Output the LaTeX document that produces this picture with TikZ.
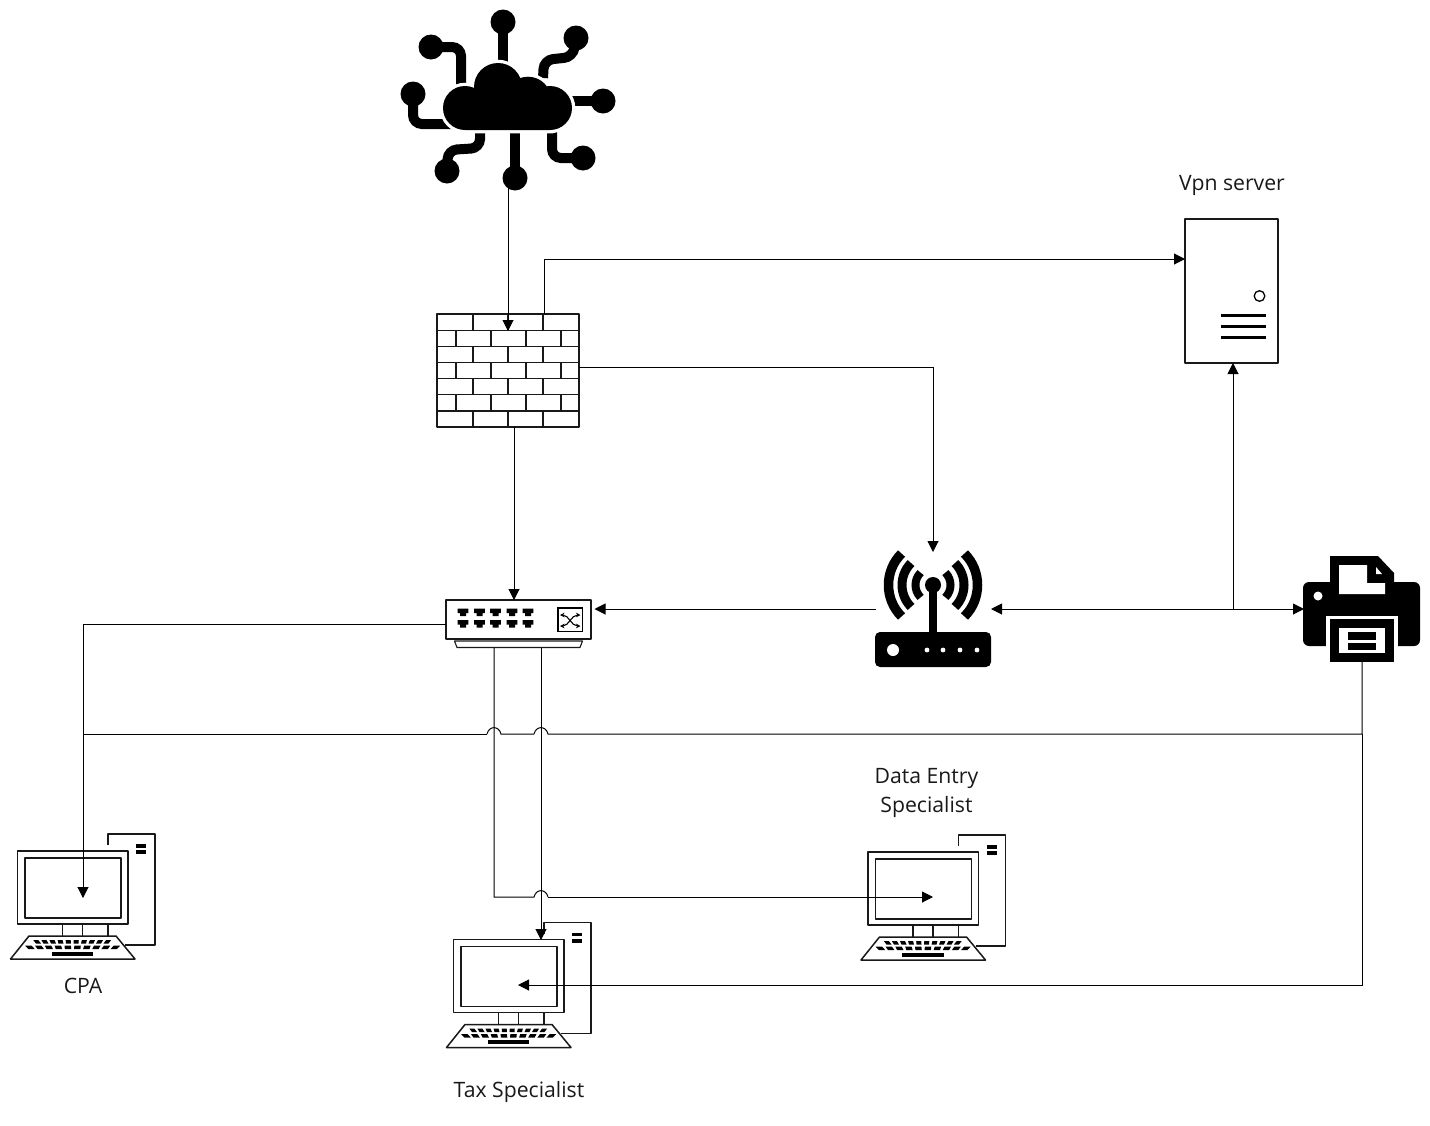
\documentclass[tikz,border=0pt]{standalone}
\usepackage{fontspec}
\setmainfont{Open Sans}
\usetikzlibrary{arrows.meta}
\tikzset{
  wire/.style={draw=black,line width=1pt,line join=miter},
  arrowwire/.style={wire,-{Triangle[length=11pt,width=11pt]}},
  dblwire/.style={wire,{Triangle[length=11pt,width=11pt]}-{Triangle[length=11pt,width=11pt]}},
  outline/.style={draw=black!90,line width=1.5pt,fill=white,line join=round},
  label/.style={font=\fontsize{21.2}{29}\selectfont,align=center,text=black!90,inner sep=0pt},
  stem/.style={draw=black,line width=10pt,rounded corners=9pt},
  pics/desktop/.style={code={
    \draw[outline] (108,845) -- (108,834) -- (155,834) -- (155,945) -- (125,945);
    \fill (136,844) rectangle (146,847.5);
    \fill (136,850) rectangle (146,854);
    \draw[outline] (17.5,851) rectangle (128,924);
    \draw[outline] (25,858) rectangle (121,918);
    \draw[outline] (62.5,924) -- (62.5,936);
    \draw[outline] (82.5,924) -- (82.5,936);
    \draw[outline] (108,924) -- (108,936);
    \draw[outline] (29,936) -- (116,936) -- (135,959) -- (10.5,959) -- cycle;
    \foreach \i in {0,...,9}{
      \pgfmathsetmacro{\xa}{36+\i*7.5}
      \pgfmathsetmacro{\sa}{(\xa+2.5-72.5)*0.08}
      \fill (\xa+\sa,940) -- (\xa+5+\sa,940) -- (\xa+5,943.5) -- (\xa,943.5) -- cycle;
      \pgfmathsetmacro{\xb}{28.5+\i*9.1}
      \pgfmathsetmacro{\sb}{(\xb+3-72.5)*0.08}
      \fill (\xb+\sb,945.7) -- (\xb+6.4+\sb,945.7) -- (\xb+6.4,949.2) -- (\xb,949.2) -- cycle;
    }
    \fill (51.5,951.7) rectangle (93,955.5);
  }}
}
\newcommand{\hop}[2]{(#1+7,#2) .. controls (#1+5,#2-8.5) and (#1-5,#2-8.5) .. (#1-7,#2)}
\begin{document}
\begin{tikzpicture}[x=1pt,y=-1pt]
\useasboundingbox (0,0) rectangle (1430,1125);

% ---- cloud
\draw[stem] (503,22) -- (503,66);
\draw[stem] (576,38) -- (573,57) -- (544,60) -- (543,78);
\draw[stem] (603,101) -- (566,101);
\draw[stem] (583,158) -- (552,158) -- (552,130);
\draw[stem] (515,178) -- (515,130);
\draw[stem] (447,171) -- (448,150) -- (480,148) -- (480,130);
\draw[stem] (413,94) -- (413,124) -- (452,124);
\draw[stem] (431,47) -- (461,47) -- (461,90);
\fill (503,22) circle[radius=12.5pt] (576,38) circle[radius=12.5pt]
      (603,101) circle[radius=12.5pt] (583,158) circle[radius=12.5pt]
      (515,178) circle[radius=12.5pt] (447,171) circle[radius=12.5pt]
      (413,94) circle[radius=12.5pt] (431,47) circle[radius=12.5pt];
\draw[white,line width=6.5pt,fill=white]
      (465,108) circle[radius=22pt] (498,87) circle[radius=24pt]
      (528,100) circle[radius=23.3pt] (550,108) circle[radius=22pt]
      (465,108) rectangle (550,130);
\fill (465,108) circle[radius=22pt] (498,87) circle[radius=24pt]
      (528,100) circle[radius=23.3pt] (550,108) circle[radius=22pt]
      (465,108) rectangle (550,130);
\coordinate (cloudout) at (508,188);

% ---- firewall
\draw[outline] (437,314) rectangle (579,427);
\foreach \y in {330.3,346.4,362.5,378.6,394.7,410.8}{\draw[black!90,line width=1.5pt] (437,\y) -- (579,\y);}
\foreach \ya/\yb in {314/330.3,346.4/362.5,378.6/394.7,410.8/427}{
  \foreach \x in {473,508,543}{\draw[black!90,line width=1.5pt] (\x,\ya) -- (\x,\yb);}}
\foreach \ya/\yb in {330.3/346.4,362.5/378.6,394.7/410.8}{
  \foreach \x in {456,491,526,561}{\draw[black!90,line width=1.5pt] (\x,\ya) -- (\x,\yb);}}
\coordinate (fwtopin) at (508,331);
\coordinate (fwtopout) at (544,314);
\coordinate (fwright) at (579,367);
\coordinate (fwbottom) at (514,427);

% ---- switch
\draw[outline] (446,600) rectangle (591,639);
\draw[outline,line width=1.1pt] (454.5,641) -- (582.5,641) -- (580,647.5) -- (457,647.5) -- cycle;
\foreach \x in {463,479.5,495.5,512,528}{\foreach \y in {612.5,624}{
  \fill (\x-5.3,\y-4) -- (\x+5.3,\y-4) -- (\x+5.3,\y+.5) -- (\x+3,\y+.5) -- (\x+3,\y+3.5) -- (\x-3,\y+3.5) -- (\x-3,\y+.5) -- (\x-5.3,\y+.5) -- cycle;}}
\draw[black,line width=1.8pt] (558,608) rectangle (582.5,631.5);
\draw[black,line width=1.1pt,{Stealth[length=4.5pt,width=4.5pt]}-{Stealth[length=4.5pt,width=4.5pt]}]
  (560,615) .. controls (569,615) and (571,626) .. (580.5,626);
\draw[black,line width=1.1pt,{Stealth[length=4.5pt,width=4.5pt]}-{Stealth[length=4.5pt,width=4.5pt]}]
  (560,626) .. controls (569,626) and (571,615) .. (580.5,615);
\coordinate (swtop) at (514,600);
\coordinate (swright) at (594.5,609);
\coordinate (swleft) at (446,624);
\coordinate (swbotA) at (494,648);
\coordinate (swbotB) at (541,648);

% ---- router
\fill[rounded corners=5pt] (875,632) rectangle (991,667);
\fill[white] (893,650) circle[radius=6pt];
\foreach \x in {927,943,960,977}{\fill[white] (\x,650) circle[radius=2.4pt];}
\fill (929,590) rectangle (937,634);
\fill (933,585) circle[radius=8pt];
\foreach \r/\w in {17.5/8,31/9,44.5/9.5}{
  \pgfmathsetmacro{\d}{\r*0.7071}
  \draw[line width=\w pt] (933-\d,585-\d) arc[start angle=135,end angle=225,radius=\r pt];
  \draw[line width=\w pt] (933+\d,585-\d) arc[start angle=45,end angle=-45,radius=\r pt];
}
\coordinate (rttop) at (933,552);
\coordinate (rtleft) at (876,609);
\coordinate (rtright) at (991,609);

% ---- printer
\fill[rounded corners=6pt] (1303,582) rectangle (1420,646);
\fill (1330,556) -- (1378,556) -- (1394,573) -- (1394,584) -- (1330,584) -- cycle;
\fill[white] (1339,565) -- (1367,565) -- (1367,583) -- (1385,583) -- (1385,594) -- (1339,594) -- cycle;
\fill[white] (1376,567) -- (1382,574) -- (1376,574) -- cycle;
\fill[white] (1318,596) circle[radius=4.5pt];
\fill[white] (1326,616) rectangle (1398,647);
\fill (1330,619) rectangle (1394,662);
\fill[white] (1339,628) rectangle (1385,653);
\fill (1348,632) rectangle (1376,639.5);
\fill (1348,643) rectangle (1376,650);
\coordinate (prleft) at (1304,609);
\coordinate (prbottom) at (1362,662);

% ---- server
\draw[outline] (1185,219) rectangle (1278,363);
\draw[black,line width=1.3pt] (1259.5,296) circle[radius=5.3pt];
\foreach \y in {315.5,326.5,337.5}{\fill (1221,\y-1.7) rectangle (1265.5,\y+1.7);}
\coordinate (svleft) at (1185,259);
\coordinate (svbottom) at (1233,363);

% ---- computers
\pic at (0,0) {desktop};
\pic at (436,88.5) {desktop};
\pic at (850.5,1) {desktop};
\coordinate (cpain) at (83,898);
\coordinate (taxtop) at (541,940);
\coordinate (taxright) at (518,985);
\coordinate (dein) at (933,897);

% ---- junction points
\coordinate (bendA) at (544,259);
\coordinate (bendB) at (933,367);
\coordinate (bendC) at (83,624);
\coordinate (bendD) at (494,897);
\coordinate (bendE) at (1362,734);
\coordinate (bendF) at (83,734);
\coordinate (bendG) at (1362,985);
\coordinate (tee) at (1233,609);

% ---- connectors
\draw[arrowwire] (cloudout) -- (fwtopin);
\draw[arrowwire] (fwtopout) -- (bendA) -- (svleft);
\draw[arrowwire] (fwright) -- (bendB) -- (rttop);
\draw[arrowwire] (fwbottom) -- (swtop);
\draw[arrowwire] (rtleft) -- (swright);
\draw[arrowwire] (swleft) -- (bendC) -- (cpain);
\draw[wire] (swbotA) -- (bendD) -- (534,897) .. controls (536,888.5) and (546,888.5) .. (548,897);
\draw[arrowwire] (548,897) -- (dein);
\draw[arrowwire] (swbotB) -- (taxtop);
\draw[wire] (prbottom) -- (bendE) -- \hop{541}{734};
\draw[wire] (534,734) -- \hop{494}{734};
\draw[wire] (487,734) -- (bendF);
\draw[arrowwire] (bendE) -- (bendG) -- (taxright);
\draw[dblwire] (rtright) -- (prleft);
\draw[arrowwire] (tee) -- (svbottom);

% ---- labels
\node[label] (vpnlabel) at (1232,185.5) {Vpn server};
\node[label] (delabel) at (926.5,793) {Data Entry\\Specialist};
\node[label] (cpalabel) at (83,986) {CPA};
\node[label] (taxlabel) at (519,1092) {Tax Specialist};
\end{tikzpicture}
\end{document}
